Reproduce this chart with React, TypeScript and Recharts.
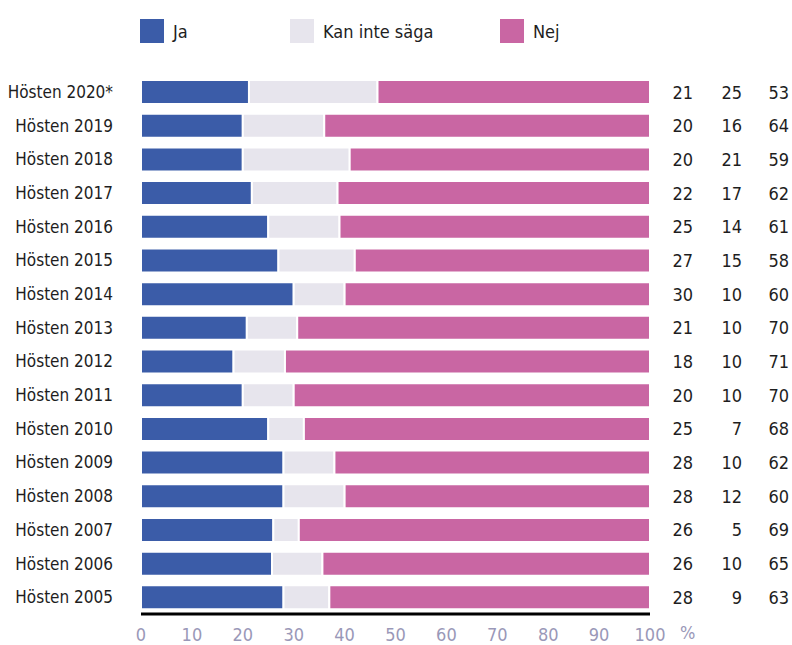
import { BarChart, Bar, XAxis, YAxis, LabelList } from "recharts";

const categories = [
  "Hösten 2020*",
  "Hösten 2019",
  "Hösten 2018",
  "Hösten 2017",
  "Hösten 2016",
  "Hösten 2015",
  "Hösten 2014",
  "Hösten 2013",
  "Hösten 2012",
  "Hösten 2011",
  "Hösten 2010",
  "Hösten 2009",
  "Hösten 2008",
  "Hösten 2007",
  "Hösten 2006",
  "Hösten 2005",
];
const jaValues = [21, 20, 20, 22, 25, 27, 30, 21, 18, 20, 25, 28, 28, 26, 26, 28];
const kanValues = [25, 16, 21, 17, 14, 15, 10, 10, 10, 10, 7, 10, 12, 5, 10, 9];
const nejValues = [53, 64, 59, 62, 61, 58, 60, 70, 71, 70, 68, 62, 60, 69, 65, 63];
const tickValues = [0, 10, 20, 30, 40, 50, 60, 70, 80, 90, 100];

const series = [
  { key: "ja", name: "Ja", color: "#3b5ca8" },
  { key: "kan", name: "Kan inte säga", color: "#e7e5ed" },
  { key: "nej", name: "Nej", color: "#c966a3" },
];

const data = categories.map((name, i) => ({
  name,
  ja: jaValues[i],
  kan: kanValues[i],
  nej: nejValues[i],
}));

const FONT = "'DejaVu Sans Condensed', 'DejaVu Sans', sans-serif";
const TEXT = "#1e1e1e";
const AXIS_TEXT = "#9a98b8";
const condensed = { fontStretch: "condensed" } as const;

function ChartLegend() {
  const widths = [150, 210, 120];
  return (
    <div
      style={{
        position: "absolute",
        left: 140,
        top: 19,
        display: "flex",
        fontFamily: FONT,
        fontStretch: "condensed",
        fontSize: 18,
        color: TEXT,
      }}
    >
      {series.map((s, i) => (
        <div key={s.key} style={{ display: "flex", alignItems: "center", width: widths[i] }}>
          <span style={{ width: 24, height: 24, background: s.color, marginRight: 9, display: "inline-block" }} />
          <span>{s.name}</span>
        </div>
      ))}
    </div>
  );
}

const valueColumns = [693, 742, 789];

function RowValues(props: any) {
  const { y, height, index } = props;
  const vals = [jaValues[index], kanValues[index], nejValues[index]];
  return (
    <g>
      {vals.map((v, i) => (
        <text
          key={i}
          x={valueColumns[i]}
          y={y + height / 2}
          textAnchor="end"
          dominantBaseline="central"
          fontFamily={FONT}
          fontSize={18}
          fill={TEXT}
          style={condensed}
        >
          {v}
        </text>
      ))}
    </g>
  );
}

export default function App() {
  return (
    <div style={{ position: "absolute", left: 0, top: 0, width: 792, height: 645, background: "#fff" }}>
      <ChartLegend />
      <BarChart
        width={792}
        height={645}
        data={data}
        layout="vertical"
        stackOffset="expand"
        barSize={24}
        margin={{ top: 75, right: 142, bottom: 1, left: 0 }}
      >
        <XAxis
          type="number"
          domain={[0, 1]}
          ticks={tickValues.map((t) => t / 100)}
          tickFormatter={(v: number) => String(Math.round(v * 100))}
          axisLine={{ stroke: "#000", strokeWidth: 3 }}
          tickLine={false}
          tickMargin={8}
          tick={{ fill: AXIS_TEXT, fontSize: 18, fontFamily: FONT, style: condensed }}
          label={{ value: "%", position: "right", offset: 30, dy: 4, fill: AXIS_TEXT, fontSize: 18, fontFamily: FONT, style: condensed }}
        />
        <YAxis
          type="category"
          dataKey="name"
          width={141}
          axisLine={false}
          tickLine={false}
          tickMargin={22}
          interval={0}
          tick={{ fill: TEXT, fontSize: 17, fontFamily: FONT, style: condensed }}
        />
        {series.map((s) => (
          <Bar
            key={s.key}
            dataKey={s.key}
            name={s.name}
            stackId="a"
            fill={s.color}
            stroke="#fff"
            strokeWidth={2}
            isAnimationActive={false}
          >
            {s.key === "nej" && <LabelList dataKey="nej" content={<RowValues />} />}
          </Bar>
        ))}
      </BarChart>
    </div>
  );
}
